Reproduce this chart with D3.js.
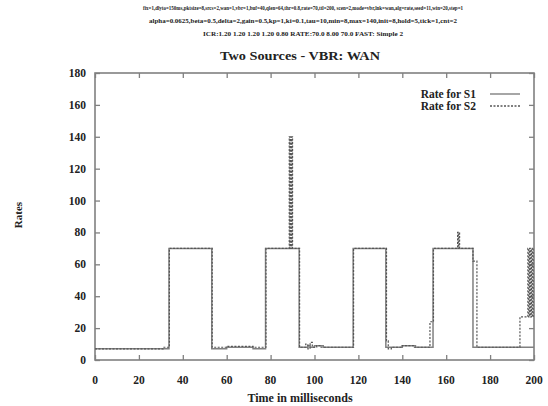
<!DOCTYPE html>
<html><head><meta charset="utf-8">
<script src="https://cdn.jsdelivr.net/npm/d3@7"></script>
<style>body{margin:0;background:#fff}svg{display:block}</style>
</head><body>
<svg id="c" width="548" height="406"></svg>
<script>
const headerLines = [
  "fix=1,dlyto=150ms,pktsize=8,srcs=2,wan=1,vbr=1,buf=40,qlen=64,thr=0.8,rate=70,ttl=200,  scen=2,mode=vbr,lnk=wan,alg=rate,seed=11,win=20,step=1",
  "alpha=0.0625,beta=0.5,delta=2,gain=0.5,kp=1,ki=0.1,tau=10,min=8,max=140,init=8,hold=5,tick=1,cnt=2",
  "ICR:1.20 1.20 1.20 1.20 0.80 RATE:70.0 8.00 70.0 FAST: Simple 2"
];
const title = "Two Sources - VBR: WAN";
const xLabel = "Time in milliseconds";
const yLabel = "Rates";
const xTicks = [0,20,40,60,80,100,120,140,160,180,200];
const yTicks = [0,20,40,60,80,100,120,140,160,180];
const seriesNames = ["Rate for S1","Rate for S2"];

const s1Time = [0,33.7,53.2,60,72,77.7,93,97,98,100,104,117.6,132.5,134,140,146,154,172.2,200];
const s1Rate = [7,70,7,8,7,70,8,9,8,9,8,70,8,8,9,8,70,8,8];

const s2Time = [0,31,33.9,53.4,60,72,77.9,88.5,88.8,89.1,89.4,89.7,90,90.3,93.2,96,97,98,99,101,103,117.8,132.8,133.6,135,140,145,152.6,154.2,165.2,165.5,165.8,166.1,172.2,174,193.6,197.2,197.6,198,198.4,198.8,199.2,199.6,200];
const s2Rate = [7,8,70,8,8.5,8,70,140,70,140,70,140,70,70,8,10,7,11,8,9,8,70,12,7,8,9,8,24,70,80,70,80,70,62,8,27,70,27,70,27,70,27,70,70];

const svg = d3.select("#c");
const L=95,R=534,T=73,B=360;
const x = d3.scaleLinear().domain([0,200]).range([L,R]);
const y = d3.scaleLinear().domain([0,180]).range([B,T]);
const grey="#808080";
const font="'Liberation Serif', 'DejaVu Serif', serif";

// header
const hy=[10,23,36], hw=[320,308,200];
headerLines.forEach((t,i)=>{
  svg.append("text").attr("x",303).attr("y",hy[i]).attr("text-anchor","middle")
    .attr("font-family",font).attr("font-weight","bold").attr("font-size",5.5).attr("fill","#222")
    .attr("textLength",hw[i]).attr("lengthAdjust","spacingAndGlyphs").text(t);
});
svg.append("text").attr("x",300).attr("y",60).attr("text-anchor","middle")
  .attr("font-family",font).attr("font-weight","bold").attr("font-size",12.5).attr("fill","#222")
  .attr("textLength",160).attr("lengthAdjust","spacingAndGlyphs").text(title);

// frame
svg.append("rect").attr("x",L).attr("y",T).attr("width",R-L).attr("height",B-T)
  .attr("fill","none").attr("stroke",grey).attr("stroke-width",1.6);

// axes with inward ticks
const ax = (g)=>{g.select(".domain").remove(); g.selectAll("line").attr("stroke",grey).attr("stroke-width",1.3);};
svg.append("g").attr("transform",`translate(0,${B})`).call(d3.axisTop(x).tickValues(xTicks).tickSize(5).tickFormat(""))
  .call(ax);
svg.append("g").attr("transform",`translate(0,${T})`).call(d3.axisBottom(x).tickValues(xTicks).tickSize(5).tickFormat(""))
  .call(ax);
svg.append("g").attr("transform",`translate(${L},0)`).call(d3.axisRight(y).tickValues(yTicks).tickSize(5).tickFormat(""))
  .call(ax);
svg.append("g").attr("transform",`translate(${R},0)`).call(d3.axisLeft(y).tickValues(yTicks).tickSize(5).tickFormat(""))
  .call(ax);

// tick labels
svg.append("g").selectAll("text").data(xTicks).join("text")
  .attr("x",d=>x(d)).attr("y",384).attr("text-anchor","middle")
  .attr("font-family",font).attr("font-weight","bold").attr("font-size",11.5).attr("fill","#222").text(d=>d);
svg.append("g").selectAll("text").data(yTicks).join("text")
  .attr("x",86).attr("y",d=>y(d)+4).attr("text-anchor","end")
  .attr("font-family",font).attr("font-weight","bold").attr("font-size",11.5).attr("fill","#222").text(d=>d);

svg.append("text").attr("x",300).attr("y",402).attr("text-anchor","middle")
  .attr("font-family",font).attr("font-weight","bold").attr("font-size",12).attr("fill","#222").text(xLabel);
svg.append("text").attr("transform","translate(22,215) rotate(-90)").attr("text-anchor","middle")
  .attr("font-family",font).attr("font-weight","bold").attr("font-size",11).attr("fill","#222").text(yLabel);

// lines
const line = d3.line().x(d=>x(d[0])).y(d=>y(d[1])).curve(d3.curveStepAfter);
const s1 = s1Time.map((t,i)=>[t,s1Rate[i]]);
const s2 = s2Time.map((t,i)=>[t,s2Rate[i]]);
svg.append("path").datum(s1).attr("d",line).attr("fill","none").attr("stroke",grey).attr("stroke-width",1.5);
svg.append("path").datum(s2).attr("d",line).attr("fill","none").attr("stroke","#555").attr("stroke-width",1.2)
  .attr("stroke-dasharray","2,1.5");

// legend
const lg = [{n:seriesNames[0],dash:null,y:94},{n:seriesNames[1],dash:"2,1.5",y:106}];
lg.forEach(o=>{
  svg.append("text").attr("x",476).attr("y",o.y+4).attr("text-anchor","end")
    .attr("font-family",font).attr("font-weight","bold").attr("font-size",11.5).attr("fill","#222").text(o.n);
  svg.append("line").attr("x1",490).attr("x2",520).attr("y1",o.y).attr("y2",o.y)
    .attr("stroke",o.dash?"#555":grey).attr("stroke-width",1.4).attr("stroke-dasharray",o.dash);
});
</script>
</body></html>
